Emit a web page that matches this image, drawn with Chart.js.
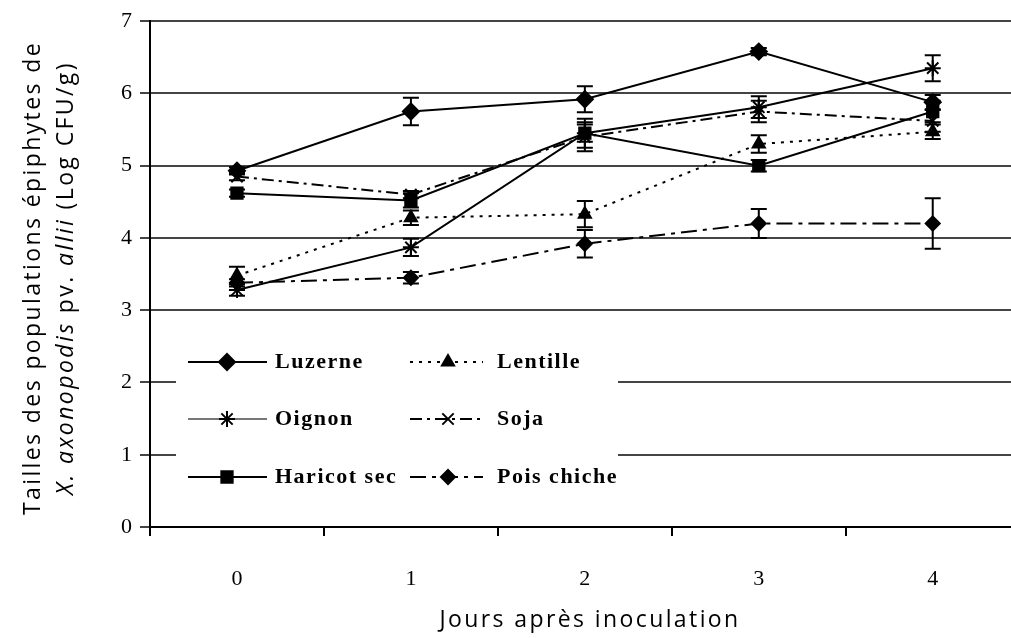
<!DOCTYPE html>
<html>
<head>
<meta charset="utf-8">
<script src="https://cdn.jsdelivr.net/npm/chart.js@4"></script>
<style>
  html, body { margin: 0; padding: 0; background: #fff; }
  #zone { width: 1011px; height: 638px; }
</style>
</head>
<body>
<div id="zone"><canvas id="grafica"></canvas></div>
<script>
// jours apres inoculation
const jours = [0, 1, 2, 3, 4];
const joursLabels = ['0', '1', '2', '3', '4'];

// moyennes (Log CFU/g)
const luzerne = [4.93, 5.75, 5.92, 6.58, 5.88];
const lentille = [3.48, 4.28, 4.33, 5.3, 5.47];
const oignon = [3.28, 3.87, 5.45, 5.81, 6.35];
const soja = [4.85, 4.6, 5.4, 5.75, 5.62];
const haricot = [4.62, 4.52, 5.45, 5.0, 5.75];
const poisChiche = [3.38, 3.45, 3.92, 4.2, 4.2];

// ecarts (barres d'erreur)
const luzerneErr = [0.05, 0.19, 0.18, 0.05, 0.1];
const lentilleErr = [0.12, 0.1, 0.18, 0.12, 0.1];
const oignonErr = [0.08, 0.12, 0.12, 0.15, 0.18];
const sojaErr = [0.05, 0.05, 0.2, 0.15, 0.15];
const haricotErr = [0.05, 0.1, 0.2, 0.08, 0.15];
const poisChicheErr = [0.05, 0.08, 0.19, 0.2, 0.35];

function puntos(valores) {
  return jours.map((j, i) => ({ x: j, y: valores[i] }));
}

const series = [
  { label: 'Luzerne', data: luzerne, err: luzerneErr, dash: [], style: 'rectRot', radius: 8, color: '#000' },
  { label: 'Lentille', data: lentille, err: lentilleErr, dash: [3, 6], style: 'triangle', radius: 7, color: '#000' },
  { label: 'Oignon', data: oignon, err: oignonErr, dash: [], style: 'star', radius: 8, color: '#000' },
  { label: 'Soja', data: soja, err: sojaErr, dash: [12, 5, 3, 5], style: 'crossRot', radius: 8, color: '#000' },
  { label: 'Haricot sec', data: haricot, err: haricotErr, dash: [], style: 'rect', radius: 8, color: '#000' },
  { label: 'Pois chiche', data: poisChiche, err: poisChicheErr, dash: [16, 6, 4, 6], style: 'rectRot', radius: 7, color: '#000' }
];

// barres d'erreur
const barresErreur = {
  id: 'barresErreur',
  afterDatasetsDraw(chart) {
    const ctx = chart.ctx;
    const xs = chart.scales.x, ys = chart.scales.y;
    ctx.save();
    ctx.strokeStyle = '#000';
    ctx.lineWidth = 2;
    series.forEach(s => {
      s.data.forEach((v, i) => {
        const px = xs.getPixelForValue(jours[i]);
        const top = ys.getPixelForValue(v + s.err[i]);
        const bot = ys.getPixelForValue(v - s.err[i]);
        ctx.beginPath();
        ctx.moveTo(px, top); ctx.lineTo(px, bot);
        ctx.moveTo(px - 8, top); ctx.lineTo(px + 8, top);
        ctx.moveTo(px - 8, bot); ctx.lineTo(px + 8, bot);
        ctx.stroke();
      });
    });
    ctx.restore();
  }
};

// legende dans la zone du graphique
const legende = {
  id: 'legende',
  afterDatasetsDraw(chart) {
    const ctx = chart.ctx;
    ctx.save();
    ctx.fillStyle = '#fff';
    ctx.fillRect(176, 330, 442, 176);
    const cols = [{ x0: 188, x1: 267, m: 227, t: 275 }, { x0: 410, x1: 483, m: 448, t: 497 }];
    const rows = [362, 419, 477];
    ctx.font = 'bold 22px "Liberation Serif"';
    ctx.textBaseline = 'middle';
    ctx.textAlign = 'left';
    ctx.letterSpacing = '1.5px';
    series.forEach((s, i) => {
      const c = cols[i % 2], y = rows[Math.floor(i / 2)];
      ctx.strokeStyle = s.label === 'Oignon' ? '#777' : '#000';
      ctx.lineWidth = 2;
      ctx.setLineDash(s.dash);
      ctx.beginPath();
      ctx.moveTo(c.x0, y); ctx.lineTo(c.x1, y);
      ctx.stroke();
      ctx.setLineDash([]);
      ctx.fillStyle = '#000';
      ctx.strokeStyle = '#000';
      Chart.helpers.drawPoint(ctx, { pointStyle: s.style, radius: s.radius, rotation: 0, borderWidth: 2 }, c.m, y);
      ctx.fillStyle = '#000';
      ctx.fillText(s.label, c.t, y);
    });
    ctx.restore();
  }
};

// titres des axes (avec italique)
const titres = {
  id: 'titres',
  afterDraw(chart) {
    const ctx = chart.ctx;
    ctx.save();
    ctx.fillStyle = '#000';
    ctx.textBaseline = 'middle';
    ctx.textAlign = 'center';
    ctx.letterSpacing = '2.4px';
    ctx.font = '23px "Open Sans"';
    ctx.fillText('Jours après inoculation', 590, 620);

    ctx.translate(0, 278);
    ctx.rotate(-Math.PI / 2);
    ctx.fillText('Tailles des populations épiphytes de', 0, 33);
    const morceaux = [
      ['X. axonopodis', 'italic 23px "Open Sans"'],
      [' pv. ', '23px "Open Sans"'],
      ['allii', 'italic 23px "Open Sans"'],
      [' (Log CFU/g)', '23px "Open Sans"']
    ];
    let total = 0;
    morceaux.forEach(m => { ctx.font = m[1]; total += ctx.measureText(m[0]).width; });
    let x = -total / 2;
    ctx.textAlign = 'left';
    morceaux.forEach(m => {
      ctx.font = m[1];
      ctx.fillText(m[0], x, 66);
      x += ctx.measureText(m[0]).width;
    });
    ctx.restore();
  }
};

function crearGrafica() {
  const ctx = document.getElementById('grafica').getContext('2d');
  new Chart(ctx, {
    type: 'line',
    data: {
      datasets: series.map(s => ({
        label: s.label,
        data: puntos(s.data),
        borderColor: s.color,
        borderWidth: 2,
        borderDash: s.dash,
        pointStyle: s.style,
        pointRadius: s.radius,
        pointBackgroundColor: '#000',
        pointBorderColor: '#000',
        pointBorderWidth: 2,
        tension: 0,
        fill: false
      }))
    },
    options: {
      responsive: true,
      maintainAspectRatio: false,
      animation: false,
      layout: { autoPadding: false, padding: { top: 20, right: 0, left: 0, bottom: 0 } },
      scales: {
        x: {
          type: 'linear',
          min: -0.5,
          max: 4.45,
          afterBuildTicks(scale) {
            scale.ticks = [-0.5, 0, 0.5, 1, 1.5, 2, 2.5, 3, 3.5, 4].map(v => ({ value: v }));
          },
          afterFit(scale) {
            scale.height = 111;
            scale.paddingLeft = 0;
            scale.paddingRight = 0;
          },
          border: { display: true, color: '#000', width: 2 },
          grid: {
            drawOnChartArea: false,
            tickLength: 9,
            lineWidth: 2,
            color: c => (c.tick && Number.isInteger(c.tick.value)) ? 'rgba(0,0,0,0)' : '#000'
          },
          ticks: {
            autoSkip: false,
            maxRotation: 0,
            padding: 30,
            color: '#000',
            font: { family: 'Liberation Serif', size: 22 },
            callback: v => Number.isInteger(v) ? joursLabels[jours.indexOf(v)] : ''
          }
        },
        y: {
          min: 0,
          max: 7,
          afterFit(scale) { scale.width = 150; },
          border: { display: true, color: '#000', width: 2 },
          grid: {
            color: '#444',
            lineWidth: 2,
            tickLength: 10
          },
          ticks: {
            stepSize: 1,
            padding: 8,
            color: '#000',
            font: { family: 'Liberation Serif', size: 22 }
          }
        }
      },
      plugins: {
        legend: { display: false },
        tooltip: { enabled: false }
      }
    },
    plugins: [barresErreur, legende, titres]
  });
}

crearGrafica();
</script>
</body>
</html>
